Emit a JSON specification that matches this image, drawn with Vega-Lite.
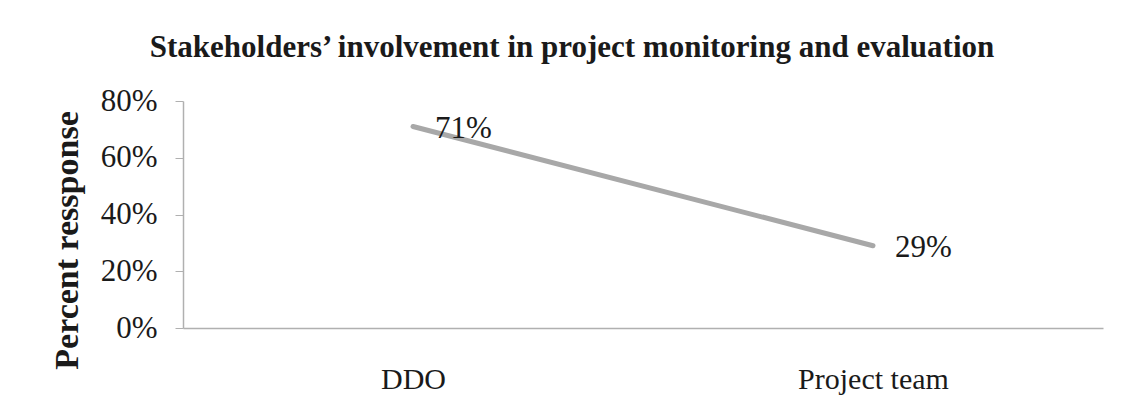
{
  "$schema": "https://vega.github.io/schema/vega-lite/v6.json",
  "width": 920,
  "height": 227,
  "autosize": "none",
  "padding": {"left": 183, "top": 101, "right": 26, "bottom": 92},
  "background": "white",
  "title": {
    "text": "Stakeholders’ involvement in project monitoring and evaluation",
    "font": "Liberation Serif",
    "fontSize": 31,
    "fontWeight": "bold",
    "color": "#1a1a1a",
    "anchor": "middle",
    "dx": -71,
    "offset": 21
  },
  "data": {
    "values": [
      {"category": "DDO", "percent": 0.71},
      {"category": "Project team", "percent": 0.29}
    ]
  },
  "config": {
    "view": {"stroke": null},
    "axis": {"labelFont": "Liberation Serif", "titleFont": "Liberation Serif"}
  },
  "encoding": {
    "x": {
      "field": "category",
      "type": "nominal",
      "sort": null,
      "scale": {"type": "point", "padding": 0.5},
      "axis": {
        "title": null,
        "labelAngle": 0,
        "labelFontSize": 30,
        "labelColor": "#1a1a1a",
        "labelPadding": 36,
        "ticks": false,
        "domainColor": "#b0b0b0",
        "domainWidth": 1.5,
        "grid": false
      }
    },
    "y": {
      "field": "percent",
      "type": "quantitative",
      "scale": {"domain": [0, 0.8]},
      "axis": {
        "title": "Percent ressponse",
        "titleFontSize": 34,
        "titleFontWeight": "bold",
        "titleColor": "#1a1a1a",
        "titlePadding": 16,
        "titleY": 139,
        "format": ".0%",
        "values": [0, 0.2, 0.4, 0.6, 0.8],
        "labelFontSize": 31,
        "labelColor": "#1a1a1a",
        "labelPadding": 18,
        "tickSize": 8,
        "tickColor": "#b0b0b0",
        "domainColor": "#b0b0b0",
        "domainWidth": 1.5,
        "grid": false
      }
    }
  },
  "layer": [
    {
      "mark": {"type": "line", "color": "#a8a8a8", "strokeWidth": 5, "strokeCap": "round"}
    },
    {
      "mark": {"type": "text", "align": "left", "baseline": "middle", "dx": 22, "dy": 2, "font": "Liberation Serif", "fontSize": 31, "color": "#1a1a1a"},
      "encoding": {"text": {"field": "percent", "type": "quantitative", "format": ".0%"}}
    }
  ]
}
